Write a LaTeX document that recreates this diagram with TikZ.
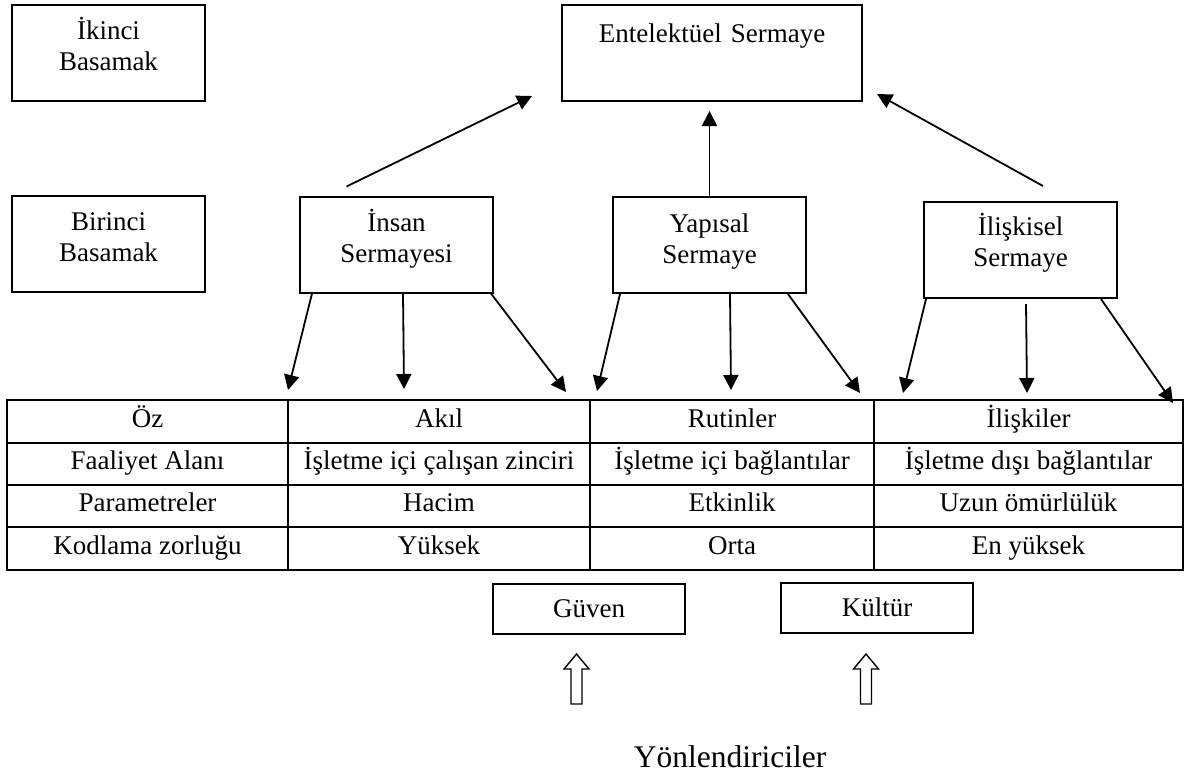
\documentclass[tikz,border=0pt]{standalone}
\usepackage{fontspec}
\setmainfont{Liberation Serif}
\usetikzlibrary{arrows.meta,calc}

\begin{document}
\begin{tikzpicture}[x=0.5pt, y=-0.5pt, line width=1pt,
	every node/.style={font=\fontsize{13.5}{15.5}\selectfont},
	box/.style={draw, inner sep=0pt, align=center, text width=96.5pt, text height=17.5pt, text depth=30.5pt},
	cell/.style={inner sep=0pt, text height=9.5pt, text depth=4pt},
	smallbox/.style={draw, inner sep=0pt, minimum width=96pt, minimum height=25pt},
	arr/.style={-{Triangle[length=7.5pt,width=7.5pt]}, line width=0.9pt}]
	\useasboundingbox (0,0) rectangle (1186,778);
	% levels
	\node[box, text height=17pt, text depth=31pt] (ikinci) at (108.5,53) {İkinci\\Basamak};
	\node[box, text height=17pt, text depth=31pt] (birinci) at (108.5,244) {Birinci\\Basamak};
	\node[box, text width=150pt, text height=18.5pt, text depth=29.5pt] (entel) at (712,53) {Entelektüel Sermaye};
	% capitals
	\node[box] (insan) at (396.5,244.5) {İnsan\\Sermayesi};
	\node[box] (yapisal) at (709.5,245) {Yapısal\\Sermaye};
	\node[box, text height=16.5pt, text depth=31.5pt] (iliskisel) at (1020.5,250) {İlişkisel\\Sermaye};
	% up arrows
	\draw[arr] ($(insan.north)+(-50,-9)$) -- ($(entel.south west)+(-29,-6)$);
	\draw[arr] (yapisal.north) -- ($(yapisal.north)+(0,-85)$);
	\draw[arr] ($(iliskisel.north)+(22.5,-15)$) -- ($(entel.south east)+(14,-8)$);
	% table
	\draw (7,400) rectangle (1183,570);
	\foreach \y in {443,485,527}
		\draw (7,\y) -- (1183,\y);
	\foreach \x in {288,590,874}
		\draw (\x,400) -- (\x,570);
	\foreach \r/\a/\b/\c/\d in {1/Öz/Akıl/Rutinler/İlişkiler,
		2/Faaliyet Alanı/İşletme içi çalışan zinciri/İşletme içi bağlantılar/İşletme dışı bağlantılar,
		3/Parametreler/Hacim/Etkinlik/Uzun ömürlülük,
		4/Kodlama zorluğu/Yüksek/Orta/En yüksek}{
		\pgfmathsetmacro\yy{421.5+42.33*(\r-1)}
		\node[cell] (cell-\r-1) at (147.5,\yy) {\a};
		\node[cell] (cell-\r-2) at (439,\yy) {\b};
		\node[cell] (cell-\r-3) at (732,\yy) {\c};
		\node[cell] (cell-\r-4) at (1028.5,\yy) {\d};
	}
	% arrow tips above the table
	\coordinate (t1) at (288,390);
	\coordinate (t2) at (404,389);
	\coordinate (t3) at (566,392);
	\coordinate (t4) at (597,391);
	\coordinate (t5) at (731,390);
	\coordinate (t6) at (860,393);
	\coordinate (t7) at (903,393);
	\coordinate (t8) at (1027,393);
	\coordinate (t9) at (1173,403);
	\draw[arr] ($(insan.south west)+(13,0)$) -- (t1);
	\draw[arr] ($(insan.south west)+(104,0)$) -- (t2);
	\draw[arr] ($(insan.south west)+(192,0)$) -- (t3);
	\draw[arr] ($(yapisal.south west)+(8,0)$) -- (t4);
	\draw[arr] ($(yapisal.south west)+(118,0)$) -- (t5);
	\draw[arr] ($(yapisal.south west)+(176,0)$) -- (t6);
	\draw[arr] ($(iliskisel.south west)+(3,0)$) -- (t7);
	\draw[arr] ($(iliskisel.south west)+(103,5)$) -- (t8);
	\draw[arr] ($(iliskisel.south west)+(178,0)$) -- (t9);
	% drivers
	\node[smallbox] (guven) at (589,608.5) {Güven};
	\node[smallbox] (kultur) at (877,607.5) {Kültür};
	\foreach \x in {576.5,866}
		\draw[line width=0.7pt] (\x,654) -- (\x+12.5,669) -- (\x+5.5,669) -- (\x+5.5,704)
			-- (\x-5.5,704) -- (\x-5.5,669) -- (\x-12.5,669) -- cycle;
	\node[font=\fontsize{15.75}{18}\selectfont] (yon) at (730,757) {Yönlendiriciler};
\end{tikzpicture}
\end{document}
